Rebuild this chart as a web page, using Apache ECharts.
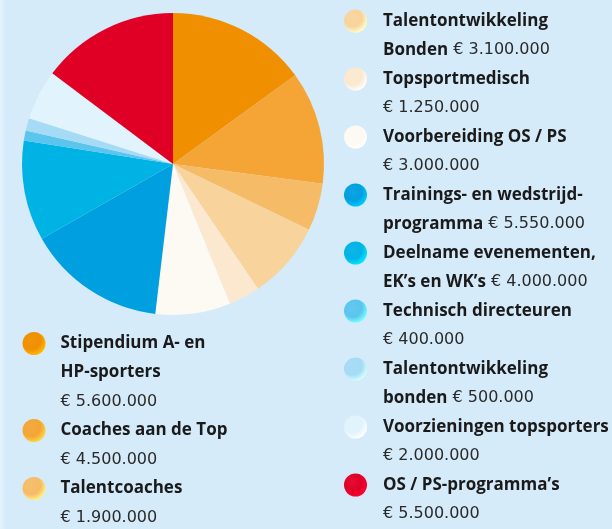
<!DOCTYPE html>
<html>
<head>
<meta charset="utf-8">
<script src="https://cdn.jsdelivr.net/npm/echarts@6/dist/echarts.min.js"></script>
<style>
  html, body { margin: 0; padding: 0; background: #d5ebf9; }
  #chart { width: 612px; height: 529px; }
</style>
</head>
<body>
<div id="chart"></div>
<script>
// budgetposten, met de klok mee vanaf boven
const names = [
  'Stipendium A- en HP-sporters',
  'Coaches aan de Top',
  'Talentcoaches',
  'Talentontwikkeling Bonden',
  'Topsportmedisch',
  'Voorbereiding OS / PS',
  'Trainings- en wedstrijdprogramma',
  'Deelname evenementen, EK\u2019s en WK\u2019s',
  'Technisch directeuren',
  'Talentontwikkeling bonden',
  'Voorzieningen topsporters',
  'OS / PS-programma\u2019s'
]
const values = [5600000, 4500000, 1900000, 3100000, 1250000, 3000000,
  5550000, 4000000, 400000, 500000, 2000000, 5500000]
// legendatekst, {v} = bedrag
const captions = [
  'Stipendium A- en\nHP-sporters\n{v}',
  'Coaches aan de Top\n{v}',
  'Talentcoaches\n{v}',
  'Talentontwikkeling\nBonden {v}',
  'Topsportmedisch\n{v}',
  'Voorbereiding OS / PS\n{v}',
  'Trainings- en wedstrijd-\nprogramma {v}',
  'Deelname evenementen,\nEK\u2019s en WK\u2019s {v}',
  'Technisch directeuren\n{v}',
  'Talentontwikkeling\nbonden {v}',
  'Voorzieningen topsporters\n{v}',
  'OS / PS-programma\u2019s\n{v}'
]
const colors = ['#f08f00', '#f4a535', '#f6bb66', '#f8d49c', '#fbe8cf', '#fdf9f3',
  '#009fe0', '#00b3e5', '#5bc5ee', '#a5dbf4', '#e1f3fc', '#e00026']

const LINE = 29

function euro (v) {
  return '\u20ac ' + String(v).replace(/\B(?=(\d{3})+(?!\d))/g, '.')
}

function richCaption (i) {
  return captions[i].split('\n').map(function (line) {
    const parts = line.split('{v}')
    let out = parts[0].trim() ? '{b|' + parts[0].trimEnd() + '}' : ''
    if (parts.length > 1) {
      out += (out ? '{n| }' : '') + '{n|' + euro(values[i]) + '}'
    }
    return out
  }).join('\n')
}

function legendItem (i, padLeft) {
  const n = captions[i].split('\n').length
  const base = colors[i]
  return {
    name: names[i],
    itemStyle: {
      color: {
        type: 'radial', x: 0.38, y: 0.35, r: 0.68,
        colorStops: [
          { offset: 0, color: echarts.color.lift(base, 0.06) },
          { offset: 0.6, color: base },
          { offset: 1, color: echarts.color.lift(base, -0.3) }
        ]
      }
    },
    textStyle: { padding: [(n - 1) * LINE, 0, 0, padLeft] }
  }
}

const captionByName = {}
names.forEach(function (nm, i) { captionByName[nm] = richCaption(i) })

const FONT = 'Open Sans'
const legendText = {
  fontFamily: FONT,
  fontSize: 17,
  lineHeight: LINE,
  color: '#1a1a1a',
  rich: {
    b: { fontFamily: FONT, fontWeight: 'bold', fontSize: 17, lineHeight: LINE, color: '#1a1a1a' },
    n: { fontFamily: 'DejaVu Sans', fontWeight: 'normal', fontSize: 16, lineHeight: LINE, color: '#2a2a2a' }
  }
}

function makeLegend (idx, left, firstIconTop, padLeft) {
  const n0 = captions[idx[0]].split('\n').length
  const textTop = 11.5 - (2 * n0 - 1) * LINE / 2
  return {
    orient: 'vertical',
    left: left,
    top: firstIconTop + textTop,
    height: 900,
    padding: 0,
    itemGap: -LINE,
    itemWidth: 23,
    itemHeight: 23,
    icon: 'circle',
    selectedMode: false,
    textStyle: legendText,
    formatter: function (name) { return captionByName[name] },
    data: idx.map(function (i) { return legendItem(i, padLeft) })
  }
}

const chart = echarts.init(document.getElementById('chart'))
chart.setOption({
  backgroundColor: '#d5ebf9',
  animation: false,
  graphic: [{
    type: 'rect',
    shape: { x: 0, y: 0, width: 6, height: 529 },
    style: {
      fill: {
        type: 'linear', x: 0, y: 0, x2: 1, y2: 0,
        colorStops: [{ offset: 0, color: '#e4f3fc' }, { offset: 1, color: '#d5ebf9' }]
      }
    },
    silent: true
  }],
  legend: [
    makeLegend([0, 1, 2], 22.5, 332, 10),
    makeLegend([3, 4, 5, 6, 7, 8, 9, 10, 11], 344, 9.5, 11)
  ],
  series: [{
    type: 'pie',
    center: [173, 164],
    radius: 151,
    startAngle: 90,
    clockwise: true,
    label: { show: false },
    labelLine: { show: false },
    emphasis: { disabled: true },
    data: names.map(function (nm, i) {
      return { name: nm, value: values[i], itemStyle: { color: colors[i] } }
    })
  }]
})
</script>
</body>
</html>
